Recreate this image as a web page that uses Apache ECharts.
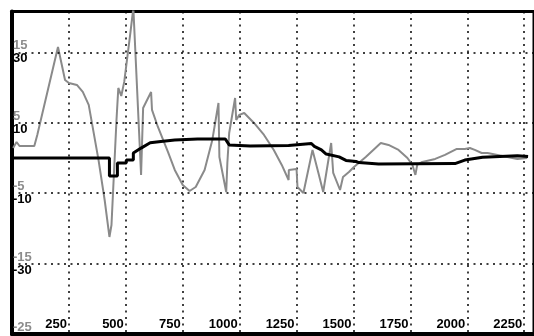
<!DOCTYPE html>
<html>
<head>
<meta charset="utf-8">
<script src="https://cdn.jsdelivr.net/npm/echarts@6/dist/echarts.min.js"></script>
<style>
html,body{margin:0;padding:0;background:#fff;}
#c{width:534px;height:336px;}
</style>
</head>
<body>
<div id="c"></div>
<script>
// X ticks
var xTicks = [250, 500, 750, 1000, 1250, 1500, 1750, 2000, 2250];
// Gray axis (left, grey labels)
var grayTicks = [-25, -15, -5, 5, 15];
// Black axis (left, black labels)
var blackTicks = [-30, -10, 10, 30];

// Gray series: x values and y values (gray axis units)
var grayX = [5, 20, 33, 98, 111, 202, 233, 250, 285, 311, 337, 380, 407, 428, 437, 459, 467, 480, 493, 520, 533, 537, 567,
  576, 589, 611, 615, 641, 685, 715, 750, 780, 807, 846, 880, 907, 911, 941, 946, 954, 980, 985, 998, 1020, 1063, 1107, 1150,
  1185, 1215, 1216, 1250, 1254, 1280, 1320, 1346, 1367, 1402, 1411, 1441, 1454, 1480, 1502, 1554, 1620, 1654, 1698, 1737,
  1759, 1772, 1780, 1802, 1859, 1902, 1954, 1989, 2011, 2033, 2063, 2089, 2133, 2176, 2220, 2263];
var grayY = [1.42, 2.27, 1.7, 1.7, 3.27, 15.77, 11.08, 10.65, 10.37, 9.38, 7.53, -0.28, -5.97, -11.22, -9.52, 5.4, 9.94, 8.81, 10.8, 17.76, 21.3, 21.3, -2.41,
  7.1, 7.95, 9.37, 6.82, 4.4, 0.85, -1.7, -3.84, -4.69, -4.12, -1.7, 2.56, 7.81, 0.14, -4.83, -0.71, 3.55, 8.52, 5.4, 6.11, 6.39, 4.97, 3.27, 1.14,
  -0.99, -3.13, -1.7, -1.56, -4.12, -4.97, 1.14, -2.13, -4.83, 2.13, -2.13, -4.55, -2.7, -1.99, -1.28, 0.14, 2.13, 1.85, 1.14, 0.0,
  -0.99, -2.41, -0.99, -0.57, -0.14, 0.43, 1.28, 1.28, 1.42, 1.14, 0.71, 0.71, 0.43, 0.14, -0.14, 0.0];

// Black series: x values and y values (black axis units)
var blackX = [0, 428, 428, 463, 463, 502, 502, 533, 533, 567, 607, 654, 715, 815, 937, 954, 1046, 1215, 1215, 1315, 1328, 1359, 1380,
  1437, 1467, 1511, 1524, 1610, 1946, 1989, 2067, 2220, 2267];
var blackY = [0.0, 0.0, -5.1, -5.1, -1.4, -1.4, -0.6, -0.6, 1.4, 2.8, 4.3, 4.7, 5.1, 5.4, 5.4, 3.7, 3.4, 3.55, 4.1, 4.1, 3.3, 2.3, 1.1,
  0.3, -0.7, -1.0, -1.3, -1.7, -1.6, -0.6, 0.2, 0.65, 0.4];

function zip(a, b) { return a.map(function (v, i) { return [v, b[i]]; }); }

var FONT = '"Liberation Sans", Arial, sans-serif';
var dotted = { color: '#000', width: 1.5, type: [2, 4.5] };

var chart = echarts.init(document.getElementById('c'), null, { renderer: 'canvas' });
chart.setOption({
  animation: false,
  backgroundColor: '#fff',
  grid: { left: 12, top: 11.5, right: -6, bottom: 2, show: true, borderColor: '#000', borderWidth: 3, backgroundColor: 'transparent' },
  xAxis: {
    type: 'value', min: 0, max: 2293, interval: 250,
    axisLine: { show: true, onZero: false, lineStyle: { color: '#000', width: 4 } },
    axisTick: { show: false },
    splitLine: { show: true, lineStyle: dotted },
    axisLabel: {
      inside: true, margin: 3, align: 'right', padding: [0, 2, 0, 0],
      showMinLabel: false, showMaxLabel: false,
      color: '#000', fontFamily: FONT, fontWeight: 'bold', fontSize: 13,
      formatter: function (v) { return xTicks.indexOf(v) >= 0 ? String(v) : ''; }
    }
  },
  yAxis: [
    {
      type: 'value', position: 'left', min: -25, max: 20.8, interval: 5,
      axisLine: { show: true, onZero: false, lineStyle: { color: '#000', width: 4 } },
      axisTick: { show: false },
      splitLine: { show: false },
      axisLabel: {
        inside: true, margin: 1, verticalAlign: 'bottom', showMaxLabel: false,
        color: '#8c8c8c', fontFamily: FONT, fontWeight: 'bold', fontSize: 13,
        formatter: function (v) { return grayTicks.indexOf(v) >= 0 ? String(v) : ''; }
      }
    },
    {
      type: 'value', position: 'left', min: -50, max: 41.6, interval: 10,
      axisLine: { show: false },
      axisTick: { show: false },
      splitLine: { show: false },
      axisLabel: {
        inside: true, margin: 1, verticalAlign: 'top', showMaxLabel: false, showMinLabel: false,
        color: '#000', fontFamily: FONT, fontWeight: 'bold', fontSize: 13,
        formatter: function (v) { return blackTicks.indexOf(v) >= 0 ? String(v) : ''; }
      }
    }
  ],
  series: [
    {
      type: 'line', yAxisIndex: 0, data: zip(grayX, grayY), symbol: 'none', clip: true,
      lineStyle: { color: '#8a8a8a', width: 2 }, z: 3,
      markLine: {
        silent: true, symbol: ['none', 'none'], label: { show: false },
        lineStyle: dotted,
        data: grayTicks.slice(1).map(function (v) { return { yAxis: v }; })
      }
    },
    {
      type: 'line', yAxisIndex: 1, data: zip(blackX, blackY), symbol: 'none', clip: true,
      lineStyle: { color: '#000', width: 3 }, z: 4
    }
  ]
});
</script>
</body>
</html>
